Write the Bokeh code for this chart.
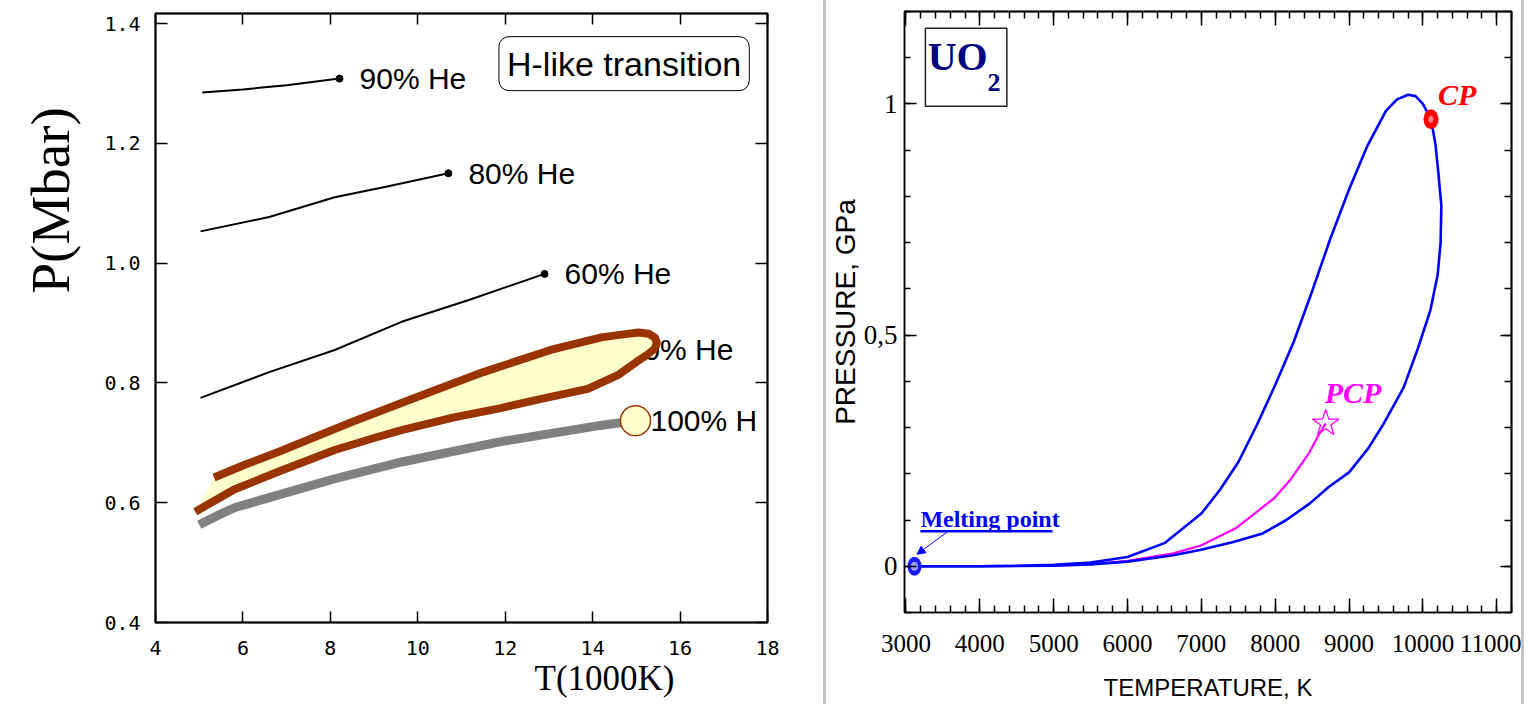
from bokeh.core.properties import value
from bokeh.embed import file_html
from bokeh.layouts import row
from bokeh.models import (Arrow, BoxAnnotation, Div, FixedTicker, Label, LinearAxis,
                          NormalHead, PrintfTickFormatter, Range1d, Title)
from bokeh.plotting import figure
from bokeh.resources import INLINE

# ---------------------------------------------------------------------------
# Left panel: H-He mixtures, pressure (Mbar) vs temperature (1000 K)
# ---------------------------------------------------------------------------
he90_t = [5.07, 6.0, 7.0, 8.21]
he90_p = [1.285, 1.290, 1.297, 1.308]

he80_t = [5.03, 6.6, 8.1, 9.3, 10.7]
he80_p = [1.053, 1.077, 1.110, 1.128, 1.150]

he60_t = [5.03, 6.6, 8.1, 9.63, 11.15, 12.9]
he60_p = [0.775, 0.818, 0.855, 0.902, 0.938, 0.982]

# H-like transition band: upper edge (left to right), round tip, lower edge back
band_upper_t = [5.34, 6.0, 6.82, 8.5, 10.0, 11.5, 13.04, 14.2, 14.7, 15.05, 15.28, 15.42, 15.47]
band_upper_p = [0.642, 0.662, 0.685, 0.735, 0.777, 0.818, 0.855, 0.876, 0.881, 0.884, 0.882, 0.876, 0.867]
band_lower_t = [15.42, 15.25, 15.0, 14.6, 13.89, 12.8, 11.9, 10.8, 9.63, 9.0, 8.1, 6.82, 5.8, 4.91]
band_lower_p = [0.857, 0.847, 0.835, 0.814, 0.790, 0.773, 0.758, 0.742, 0.721, 0.708, 0.688, 0.652, 0.622, 0.585]

# pure hydrogen
h100_t = [5.0, 5.4, 5.82, 6.82, 8.1, 9.63, 11.9, 14.18, 14.98]
h100_p = [0.563, 0.578, 0.592, 0.613, 0.640, 0.668, 0.702, 0.729, 0.737]

he_labels = ["90% He", "80% He", "60% He"]
band_label = "40% He"
h_label = "100% H"

left_x_ticks = [4, 6, 8, 10, 12, 14, 16, 18]
left_y_ticks = [0.4, 0.6, 0.8, 1.0, 1.2, 1.4]

# ---------------------------------------------------------------------------
# Right panel: UO2 two-phase boundary, pressure (GPa) vs temperature (K)
# ---------------------------------------------------------------------------
melt_t, melt_p = 3115, 0.0
cp_t, cp_p = 10110, 0.967

boil_t = [3115, 4000, 4500, 5000, 5500, 6000, 6500, 7000, 7250, 7500, 7750, 8000,
          8250, 8500, 8750, 9000, 9250, 9500, 9650, 9800, 9900, 10000, 10110]
boil_p = [0.0, 0.0, 0.001, 0.003, 0.008, 0.020, 0.050, 0.114, 0.165, 0.225, 0.305, 0.392,
          0.485, 0.595, 0.710, 0.815, 0.910, 0.985, 1.010, 1.020, 1.017, 1.000, 0.967]

cond_t = [10110, 10170, 10210, 10250, 10240, 10200, 10100, 9930, 9740, 9475, 9260,
          9000, 8720, 8470, 8140, 7830, 7420, 6980, 6620, 6000, 5500, 5000, 4000, 3115]
cond_p = [0.967, 0.913, 0.850, 0.780, 0.700, 0.630, 0.553, 0.470, 0.387, 0.310, 0.255,
          0.203, 0.171, 0.136, 0.099, 0.071, 0.052, 0.035, 0.024, 0.010, 0.004, 0.001, 0.0, 0.0]

pcp_line_t = [5500, 6000, 6620, 6995, 7465, 7985, 8200, 8455, 8600, 8684]
pcp_line_p = [0.004, 0.012, 0.028, 0.045, 0.082, 0.147, 0.186, 0.244, 0.287, 0.309]

right_x_ticks = [3000, 4000, 5000, 6000, 7000, 8000, 9000, 10000, 11000]
right_x_minor = list(range(3000, 11201, 200))
right_y_ticks = [0, 0.5, 1]
right_y_minor = [-0.1, 0.0, 0.1, 0.2, 0.3, 0.4, 0.5, 0.6, 0.7, 0.8, 0.9, 1.0, 1.1, 1.2]
right_y_labels = {0: "0", 0.5: "0,5", 1: "1"}

BROWN = "#993300"
CREAM = "#FFFFCC"


def labelled_axis(ax, ticks, tick_in, minor=None, minor_in=0,
                  font="DejaVu Sans Mono", size="20px", standoff=10):
    ax.ticker = FixedTicker(ticks=ticks, minor_ticks=minor or [])
    ax.major_tick_in = tick_in
    ax.major_tick_out = 0
    ax.minor_tick_in = minor_in
    ax.minor_tick_out = 0
    for attr in ("axis_line", "major_tick_line", "minor_tick_line"):
        setattr(ax, attr + "_color", "black")
        setattr(ax, attr + "_width", 1.5)
    ax.major_label_text_font = font
    ax.major_label_text_font_size = size
    ax.major_label_text_color = "black"
    ax.major_label_standoff = standoff
    ax.axis_label_text_color = "black"


def tick_only_axis(fig, side, positions, tick_in):
    """An unlabelled axis that only draws inward ticks on the frame edge."""
    ax = LinearAxis(ticker=FixedTicker(ticks=[], minor_ticks=positions))
    ax.minor_tick_in = tick_in
    ax.minor_tick_out = 0
    ax.major_tick_in = 0
    ax.major_tick_out = 0
    ax.major_label_standoff = 0
    ax.axis_line_color = "black"
    ax.axis_line_width = 1.5
    ax.minor_tick_line_color = "black"
    ax.minor_tick_line_width = 1.5
    fig.add_layout(ax, side)


# ------------------------------- left figure -------------------------------
left = figure(width=823, height=704, x_range=Range1d(4, 18), y_range=Range1d(0.4, 1.4167),
              output_backend="svg", toolbar_location=None, frame_align=False,
              min_border_left=153, min_border_right=56, min_border_top=13, min_border_bottom=82)
left.grid.visible = False
left.outline_line_color = "black"
left.outline_line_width = 2

labelled_axis(left.xaxis[0], left_x_ticks, 11, standoff=18)
labelled_axis(left.yaxis[0], left_y_ticks, 12, standoff=15)
left.yaxis[0].formatter = PrintfTickFormatter(format="%.1f")
tick_only_axis(left, "above", left_x_ticks, 11)
tick_only_axis(left, "right", left_y_ticks, 12)

left.add_layout(Title(text="P(Mbar)", align="left", offset=329, vertical_align="top",
                      standoff=38, text_font="Liberation Serif", text_font_size="55px",
                      text_font_style="normal", text_color="black"), "left")
left.add_layout(Title(text="T(1000K)", align="left", offset=379, vertical_align="middle",
                      standoff=0, text_font="Liberation Serif", text_font_size="35px",
                      text_font_style="normal", text_color="black"), "below")

# helium-rich mixtures
for ts, ps, lab in zip([he90_t, he80_t, he60_t], [he90_p, he80_p, he60_p], he_labels):
    left.line(ts, ps, line_color="black", line_width=2)
    left.scatter([ts[-1]], [ps[-1]], size=7, color="black")
    left.text([ts[-1]], [ps[-1]], text=[lab], x_offset=20, text_baseline="middle",
              text_font=value("Liberation Sans"), text_font_size="30px", text_color="black")

# label of the 40% He curve, partly covered by the transition band
left.text([14.78], [0.855], text=[band_label], text_baseline="middle",
          text_font=value("Liberation Sans"), text_font_size="30px", text_color="black")

# transition band
outline_t = band_upper_t + band_lower_t
outline_p = band_upper_p + band_lower_p
left.patch(outline_t, outline_p, fill_color=CREAM, line_color=None)
left.line(outline_t, outline_p, line_color=BROWN, line_width=8, line_join="round")

# pure hydrogen
left.line(h100_t, h100_p, line_color="#808080", line_width=9)
left.scatter([h100_t[-1]], [h100_p[-1]], size=30, fill_color=CREAM,
             line_color=BROWN, line_width=1.5)
left.text([h100_t[-1]], [h100_p[-1]], text=[h_label], x_offset=15, text_baseline="middle",
          text_font=value("Liberation Sans"), text_font_size="30px", text_color="black")

left.add_layout(Label(x=14.72, y=1.333, text="H-like transition", text_align="center",
                      text_baseline="middle", text_font="Liberation Sans",
                      text_font_size="34px", text_color="black",
                      background_fill_color="white", border_line_color="black",
                      border_line_width=1, border_radius=10, padding=8))

# ------------------------------- right figure ------------------------------
right = figure(width=695, height=704, x_range=Range1d(2980, 11200), y_range=Range1d(-0.1, 1.2),
               output_backend="svg", toolbar_location=None, frame_align=False,
               min_border_left=74, min_border_right=10, min_border_top=11, min_border_bottom=92)
right.grid.visible = False
right.outline_line_color = "black"
right.outline_line_width = 1.5

labelled_axis(right.xaxis[0], right_x_ticks, 14, right_x_minor, 7,
              font="Liberation Serif", size="25px", standoff=22)
labelled_axis(right.yaxis[0], right_y_ticks, 12, right_y_minor, 6,
              font="Liberation Serif", size="27px", standoff=7)
right.yaxis[0].major_label_overrides = right_y_labels
right.xaxis[0].axis_label = "TEMPERATURE, K"
right.xaxis[0].axis_label_text_font = "Liberation Sans"
right.xaxis[0].axis_label_text_font_size = "24px"
right.xaxis[0].axis_label_text_font_style = "normal"
right.xaxis[0].axis_label_standoff = 19
right.yaxis[0].axis_label = "PRESSURE, GPa"
right.yaxis[0].axis_label_text_font = "Liberation Sans"
right.yaxis[0].axis_label_text_font_size = "28px"
right.yaxis[0].axis_label_text_font_style = "normal"
right.yaxis[0].axis_label_standoff = 0

tick_only_axis(right, "above", right_x_ticks, 14)
tick_only_axis(right, "above", right_x_minor, 7)
tick_only_axis(right, "right", right_y_ticks, 11)
tick_only_axis(right, "right", right_y_minor, 7)

right.line(pcp_line_t, pcp_line_p, line_color="#ff00ff", line_width=2.2)
right.line(boil_t, boil_p, line_color="#0000ff", line_width=2.6)
right.line(cond_t, cond_p, line_color="#0000ff", line_width=2.6)

right.scatter([pcp_line_t[-1]], [pcp_line_p[-1]], marker="star", size=28,
              fill_color=None, line_color="#ff00ff", line_width=1.3)

right.ellipse([cp_t], [cp_p], width=15, height=20, width_units="screen",
              height_units="screen", fill_color="#ff0000", line_color=None)
right.ellipse([cp_t], [cp_p], width=5, height=7, width_units="screen",
              height_units="screen", fill_color="#ff8080", line_color=None)
right.ellipse([melt_t], [melt_p], width=14, height=19, width_units="screen",
              height_units="screen", fill_color="#1a1aff", line_color=None)
right.ellipse([melt_t], [melt_p], width=7, height=9, width_units="screen",
              height_units="screen", fill_color="#9a9aff", line_color=None)

# compound name box
right.add_layout(BoxAnnotation(left=3263, right=4366, bottom=0.995, top=1.164,
                               fill_color="white", fill_alpha=1.0,
                               line_color="#222222", line_alpha=1.0, line_width=1.5))
right.add_layout(Label(x=3700, y=1.103, text="UO", text_align="center", text_baseline="middle",
                       text_font="Liberation Serif", text_font_style="bold",
                       text_font_size="40px", text_color="#000080"))
right.add_layout(Label(x=4191, y=1.047, text="2", text_align="center", text_baseline="middle",
                       text_font="Liberation Serif", text_font_style="bold",
                       text_font_size="26px", text_color="#000080"))

right.add_layout(Label(x=10204, y=1.021, text="CP", text_baseline="middle",
                       text_font="Liberation Serif", text_font_style="bold italic",
                       text_font_size="30px", text_color="#ff0000"))
right.add_layout(Label(x=8671, y=0.376, text="PCP", text_baseline="middle",
                       text_font="Liberation Serif", text_font_style="bold italic",
                       text_font_size="30px", text_color="#ff00ff"))

melt_lab_t, melt_lab_p = 3195, 0.103
right.add_layout(Label(x=melt_lab_t, y=melt_lab_p, text="Melting point", text_baseline="middle",
                       text_font="Liberation Serif", text_font_style="bold",
                       text_font_size="24px", text_color="#0000ff"))
right.line([melt_lab_t, 4985], [0.0757, 0.0757], line_color="#0000ff", line_width=2.5)
right.add_layout(Arrow(end=NormalHead(size=8, fill_color="#0000ff", line_color="#0000ff"),
                       x_start=3558, y_start=0.074, x_end=3150, y_end=0.026,
                       line_color="#0000ff", line_width=1))

sep1 = Div(width=3, height=704, margin=0, styles={"background-color": "#c4c4c4"})
sep2 = Div(width=3, height=704, margin=0, styles={"background-color": "#c4c4c4"})

page = row(left, sep1, right, sep2, spacing=0)

open("out.html", "w").write(file_html(page, INLINE))
